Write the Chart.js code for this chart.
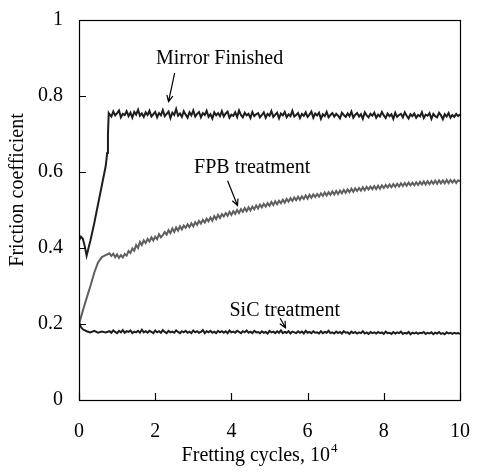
<!DOCTYPE html>
<html>
<head>
<meta charset="utf-8">
<title>Friction coefficient vs fretting cycles</title>
<script src="https://cdn.jsdelivr.net/npm/chart.js@4.4.1/dist/chart.umd.min.js"></script>
<style>
    body { margin: 0; background: #fff; }
    canvas { display: block; }
</style>
</head>
<body>
<canvas id="frictionChart" width="482" height="472"></canvas>
<script>
// Fretting cycles (x 10^4) shared by the steady part of every curve
const cycles = [
    0.8, 0.85, 0.9, 0.95, 1.0, 1.05, 1.1, 1.15, 1.2, 1.25, 1.3, 1.35, 1.4, 1.45, 1.5, 1.55, 1.6, 1.65, 1.7, 1.75,
    1.8, 1.85, 1.9, 1.95, 2.0, 2.05, 2.1, 2.15, 2.2, 2.25, 2.3, 2.35, 2.4, 2.45, 2.5, 2.55, 2.6, 2.65, 2.7, 2.75,
    2.8, 2.85, 2.9, 2.95, 3.0, 3.05, 3.1, 3.15, 3.2, 3.25, 3.3, 3.35, 3.4, 3.45, 3.5, 3.55, 3.6, 3.65, 3.7, 3.75,
    3.8, 3.85, 3.9, 3.95, 4.0, 4.05, 4.1, 4.15, 4.2, 4.25, 4.3, 4.35, 4.4, 4.45, 4.5, 4.55, 4.6, 4.65, 4.7, 4.75,
    4.8, 4.85, 4.9, 4.95, 5.0, 5.05, 5.1, 5.15, 5.2, 5.25, 5.3, 5.35, 5.4, 5.45, 5.5, 5.55, 5.6, 5.65, 5.7, 5.75,
    5.8, 5.85, 5.9, 5.95, 6.0, 6.05, 6.1, 6.15, 6.2, 6.25, 6.3, 6.35, 6.4, 6.45, 6.5, 6.55, 6.6, 6.65, 6.7, 6.75,
    6.8, 6.85, 6.9, 6.95, 7.0, 7.05, 7.1, 7.15, 7.2, 7.25, 7.3, 7.35, 7.4, 7.45, 7.5, 7.55, 7.6, 7.65, 7.7, 7.75,
    7.8, 7.85, 7.9, 7.95, 8.0, 8.05, 8.1, 8.15, 8.2, 8.25, 8.3, 8.35, 8.4, 8.45, 8.5, 8.55, 8.6, 8.65, 8.7, 8.75,
    8.8, 8.85, 8.9, 8.95, 9.0, 9.05, 9.1, 9.15, 9.2, 9.25, 9.3, 9.35, 9.4, 9.45, 9.5, 9.55, 9.6, 9.65, 9.7, 9.75,
    9.8, 9.85, 9.9, 9.95, 10.0
];

// Mirror Finished
const mirrorHeadX = [0, 0, 0.05, 0.1, 0.15, 0.2, 0.25, 0.3, 0.4, 0.5, 0.6, 0.7, 0.74, 0.76, 0.78];
const mirrorHeadY = [0.49, 0.42, 0.43, 0.425, 0.405, 0.38, 0.40, 0.42, 0.465, 0.515, 0.565, 0.615, 0.65, 0.70, 0.755];
const mirrorBody = [
    0.752, 0.746, 0.759, 0.749, 0.755, 0.762, 0.744, 0.753, 0.750, 0.760, 0.747, 0.756, 0.743, 0.758, 0.751, 0.764, 0.748, 0.754, 0.745, 0.757,
    0.750, 0.761, 0.746, 0.752, 0.758, 0.744, 0.755, 0.749, 0.763, 0.747, 0.753, 0.759, 0.742, 0.756, 0.750, 0.766, 0.748, 0.754, 0.745, 0.760,
    0.751, 0.743, 0.757, 0.749, 0.762, 0.746, 0.753, 0.758, 0.744, 0.755, 0.750, 0.761, 0.745, 0.752, 0.741, 0.757, 0.749, 0.755, 0.747, 0.760,
    0.746, 0.754, 0.759, 0.743, 0.751, 0.748, 0.757, 0.745, 0.762, 0.750, 0.744, 0.756, 0.749, 0.753, 0.742, 0.758, 0.747, 0.752, 0.755, 0.744,
    0.750, 0.757, 0.743, 0.753, 0.748, 0.760, 0.745, 0.751, 0.756, 0.741, 0.754, 0.749, 0.758, 0.744, 0.752, 0.747, 0.761, 0.746, 0.750, 0.755,
    0.742, 0.753, 0.748, 0.757, 0.745, 0.751, 0.759, 0.743, 0.754, 0.749, 0.756, 0.740, 0.752, 0.747, 0.758, 0.744, 0.750, 0.755, 0.746, 0.753,
    0.748, 0.741, 0.756, 0.750, 0.745, 0.754, 0.747, 0.759, 0.743, 0.751, 0.755, 0.746, 0.752, 0.740, 0.757, 0.749, 0.744, 0.753, 0.748, 0.756,
    0.743, 0.751, 0.746, 0.758, 0.749, 0.742, 0.754, 0.747, 0.752, 0.740, 0.756, 0.745, 0.750, 0.753, 0.744, 0.757, 0.748, 0.741, 0.752, 0.747,
    0.754, 0.743, 0.750, 0.746, 0.757, 0.742, 0.751, 0.748, 0.755, 0.740, 0.753, 0.747, 0.744, 0.756, 0.749, 0.739, 0.752, 0.746, 0.755, 0.743,
    0.750, 0.745, 0.753, 0.747, 0.752
];

// FPB treatment
const fpbHeadX = [0, 0.1, 0.2, 0.3, 0.4, 0.5, 0.6, 0.7];
const fpbHeadY = [0.200, 0.235, 0.268, 0.300, 0.335, 0.362, 0.376, 0.381];
const fpbBody = [
    0.386, 0.379, 0.385, 0.376, 0.383, 0.374, 0.381, 0.375, 0.384, 0.380, 0.392, 0.387, 0.399, 0.393, 0.408, 0.400, 0.416, 0.408, 0.420, 0.413,
    0.424, 0.417, 0.428, 0.420, 0.430, 0.423, 0.436, 0.428, 0.434, 0.442, 0.435, 0.447, 0.439, 0.451, 0.442, 0.454, 0.446, 0.457, 0.449, 0.459,
    0.453, 0.462, 0.455, 0.465, 0.457, 0.468, 0.461, 0.471, 0.464, 0.474, 0.467, 0.477, 0.470, 0.480, 0.472, 0.484, 0.476, 0.487, 0.479, 0.489,
    0.483, 0.492, 0.485, 0.495, 0.487, 0.497, 0.490, 0.500, 0.492, 0.502, 0.495, 0.505, 0.497, 0.507, 0.499, 0.509, 0.502, 0.512, 0.504, 0.514,
    0.507, 0.516, 0.509, 0.518, 0.511, 0.521, 0.513, 0.523, 0.515, 0.524, 0.518, 0.527, 0.519, 0.529, 0.522, 0.531, 0.524, 0.533, 0.526, 0.535,
    0.527, 0.536, 0.529, 0.538, 0.530, 0.540, 0.532, 0.541, 0.534, 0.542, 0.535, 0.544, 0.537, 0.546, 0.538, 0.547, 0.540, 0.549, 0.541, 0.550,
    0.542, 0.551, 0.544, 0.553, 0.545, 0.554, 0.547, 0.556, 0.548, 0.557, 0.550, 0.558, 0.551, 0.560, 0.552, 0.561, 0.554, 0.562, 0.555, 0.563,
    0.555, 0.564, 0.556, 0.565, 0.558, 0.566, 0.559, 0.567, 0.560, 0.568, 0.561, 0.569, 0.562, 0.570, 0.563, 0.571, 0.564, 0.572, 0.565, 0.572,
    0.565, 0.573, 0.566, 0.574, 0.567, 0.575, 0.567, 0.576, 0.568, 0.576, 0.569, 0.577, 0.569, 0.578, 0.570, 0.578, 0.570, 0.579, 0.571, 0.579,
    0.572, 0.579, 0.571, 0.578, 0.575
];

// SiC treatment
const sicHeadX = [0, 0.05, 0.1, 0.2, 0.3, 0.4, 0.5, 0.6, 0.7];
const sicHeadY = [0.205, 0.192, 0.186, 0.181, 0.178, 0.182, 0.177, 0.180, 0.178];
const sicBody = [
    0.181, 0.177, 0.183, 0.179, 0.176, 0.182, 0.178, 0.184, 0.177, 0.181, 0.179, 0.183, 0.176, 0.180, 0.178, 0.182, 0.177, 0.185, 0.178, 0.181,
    0.177, 0.182, 0.179, 0.176, 0.183, 0.178, 0.181, 0.177, 0.184, 0.179, 0.176, 0.182, 0.178, 0.180, 0.177, 0.183, 0.179, 0.176, 0.181, 0.178,
    0.182, 0.177, 0.180, 0.176, 0.183, 0.178, 0.181, 0.177, 0.179, 0.184, 0.176, 0.181, 0.178, 0.182, 0.177, 0.180, 0.176, 0.182, 0.178, 0.181,
    0.177, 0.181, 0.176, 0.183, 0.178, 0.180, 0.177, 0.182, 0.179, 0.176, 0.181, 0.178, 0.183, 0.177, 0.180, 0.176, 0.182, 0.178, 0.179, 0.176,
    0.181, 0.177, 0.179, 0.175, 0.182, 0.178, 0.180, 0.176, 0.181, 0.177, 0.183, 0.176, 0.179, 0.177, 0.181, 0.175, 0.180, 0.178, 0.176, 0.181,
    0.177, 0.180, 0.175, 0.182, 0.177, 0.179, 0.176, 0.181, 0.177, 0.178, 0.175, 0.181, 0.176, 0.179, 0.177, 0.182, 0.176, 0.178, 0.175, 0.180,
    0.176, 0.179, 0.175, 0.181, 0.177, 0.178, 0.174, 0.180, 0.176, 0.179, 0.175, 0.178, 0.176, 0.181, 0.175, 0.178, 0.174, 0.179, 0.176, 0.178,
    0.175, 0.179, 0.176, 0.178, 0.174, 0.180, 0.176, 0.177, 0.174, 0.179, 0.175, 0.178, 0.176, 0.180, 0.174, 0.177, 0.175, 0.179, 0.173, 0.177,
    0.175, 0.178, 0.174, 0.177, 0.176, 0.179, 0.174, 0.177, 0.175, 0.178, 0.173, 0.177, 0.175, 0.179, 0.174, 0.176, 0.173, 0.178, 0.175, 0.177,
    0.174, 0.177, 0.175, 0.176, 0.174
];

// Axis ticks
const xTicks = [0, 2, 4, 6, 8, 10];
const xTickLabels = ['0', '2', '4', '6', '8', '10'];
const yTicks = [0, 0.2, 0.4, 0.6, 0.8, 1];
const yTickLabels = ['0', '0.2', '0.4', '0.6', '0.8', '1'];

const FONT = "'Liberation Serif', 'Times New Roman', serif";
const FONT_SIZE = 20;

// Labels with arrows, placed in data units
const callouts = [
    { text: 'Mirror Finished', tx: 3.69, ty: 0.899, from: [2.51, 0.86], to: [2.35, 0.785] },
    { text: 'FPB treatment', tx: 4.545, ty: 0.612, from: [3.90, 0.577], to: [4.16, 0.512] },
    { text: 'SiC treatment', tx: 5.40, ty: 0.236, from: [5.28, 0.215], to: [5.42, 0.190] }
];

function toPoints(headX, headY, body) {
    const pts = headX.map((x, i) => ({ x: x, y: headY[i] }));
    cycles.forEach((x, i) => pts.push({ x: x, y: body[i] }));
    return pts;
}

function drawArrow(ctx, x1, y1, x2, y2) {
    const ang = Math.atan2(y2 - y1, x2 - x1);
    const head = 7;
    ctx.beginPath();
    ctx.moveTo(x1, y1);
    ctx.lineTo(x2, y2);
    ctx.moveTo(x2 - head * Math.cos(ang - 0.45), y2 - head * Math.sin(ang - 0.45));
    ctx.lineTo(x2, y2);
    ctx.lineTo(x2 - head * Math.cos(ang + 0.45), y2 - head * Math.sin(ang + 0.45));
    ctx.stroke();
}

// Box frame, inward ticks, axis titles and callouts
const framePlugin = {
    id: 'frame',
    afterDraw(chart) {
        const { ctx, chartArea: a, scales: { x, y } } = chart;
        ctx.save();
        ctx.strokeStyle = '#000';
        ctx.lineWidth = 1.2;
        ctx.strokeRect(a.left + 0.5, a.top + 0.5, a.right - a.left, a.bottom - a.top);

        ctx.beginPath();
        x.ticks.forEach(t => {
            const px = Math.round(x.getPixelForValue(t.value)) + 0.5;
            ctx.moveTo(px, a.bottom);
            ctx.lineTo(px, a.bottom - 7);
        });
        y.ticks.forEach(t => {
            const py = Math.round(y.getPixelForValue(t.value)) + 0.5;
            ctx.moveTo(a.left, py);
            ctx.lineTo(a.left + 7, py);
        });
        ctx.stroke();

        ctx.fillStyle = '#000';
        ctx.font = FONT_SIZE + 'px ' + FONT;
        ctx.textBaseline = 'middle';
        ctx.textAlign = 'center';

        // y title
        ctx.save();
        ctx.translate(18, 190);
        ctx.rotate(-Math.PI / 2);
        ctx.fillText('Friction coefficient', 0, 0);
        ctx.restore();

        // x title with superscript
        const main = 'Fretting cycles, 10';
        ctx.textBaseline = 'alphabetic';
        const w1 = ctx.measureText(main).width;
        ctx.font = '13px ' + FONT;
        const w2 = ctx.measureText('4').width;
        const startX = 259 - (w1 + w2) / 2;
        ctx.font = FONT_SIZE + 'px ' + FONT;
        ctx.textAlign = 'left';
        ctx.fillText(main, startX, 461);
        ctx.font = '13px ' + FONT;
        ctx.fillText('4', startX + w1 + 1, 452);

        // callouts
        ctx.font = FONT_SIZE + 'px ' + FONT;
        ctx.textAlign = 'center';
        ctx.textBaseline = 'middle';
        ctx.lineWidth = 1.2;
        callouts.forEach(c => {
            ctx.fillText(c.text, x.getPixelForValue(c.tx), y.getPixelForValue(c.ty));
            drawArrow(ctx,
                x.getPixelForValue(c.from[0]), y.getPixelForValue(c.from[1]),
                x.getPixelForValue(c.to[0]), y.getPixelForValue(c.to[1]));
        });
        ctx.restore();
    }
};

const lineStyle = { borderWidth: 2, pointRadius: 0, tension: 0, fill: false };

new Chart(document.getElementById('frictionChart'), {
    type: 'line',
    data: {
        datasets: [
            Object.assign({ label: 'Mirror Finished', data: toPoints(mirrorHeadX, mirrorHeadY, mirrorBody), borderColor: '#1e1e1e' }, lineStyle),
            Object.assign({ label: 'FPB treatment', data: toPoints(fpbHeadX, fpbHeadY, fpbBody), borderColor: '#5f5f5f' }, lineStyle),
            Object.assign({ label: 'SiC treatment', data: toPoints(sicHeadX, sicHeadY, sicBody), borderColor: '#1e1e1e' }, lineStyle)
        ]
    },
    options: {
        responsive: false,
        animation: false,
        devicePixelRatio: 1,
        layout: { padding: { top: 13, right: 12, left: 0, bottom: 0 } },
        plugins: { legend: { display: false }, tooltip: { enabled: false } },
        scales: {
            x: {
                type: 'linear',
                min: 0,
                max: 10,
                grid: { display: false },
                border: { display: false },
                afterBuildTicks: s => { s.ticks = xTicks.map(v => ({ value: v })); },
                afterFit: s => { s.height = 72; },
                ticks: {
                    padding: 12,
                    color: '#000',
                    font: { family: FONT, size: FONT_SIZE },
                    maxRotation: 0,
                    callback: (v, i) => xTickLabels[i]
                }
            },
            y: {
                type: 'linear',
                min: 0,
                max: 1,
                grid: { display: false },
                border: { display: false },
                afterBuildTicks: s => { s.ticks = yTicks.map(v => ({ value: v })); },
                afterFit: s => { s.width = 79; },
                ticks: {
                    padding: 8,
                    color: '#000',
                    font: { family: FONT, size: FONT_SIZE },
                    callback: (v, i) => yTickLabels[i]
                }
            }
        }
    },
    plugins: [framePlugin]
});
</script>
</body>
</html>
